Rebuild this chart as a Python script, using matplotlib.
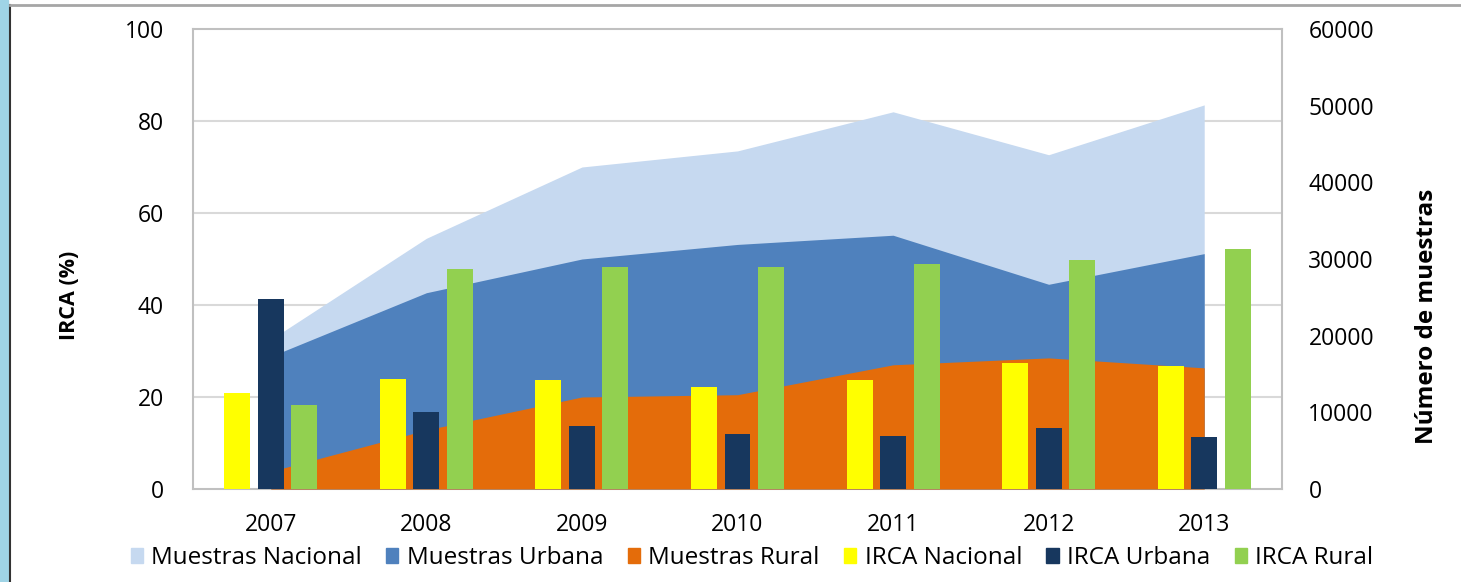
import numpy as np
import matplotlib
matplotlib.use('Agg')
import matplotlib.pyplot as plt
from matplotlib.patches import Patch, Rectangle
from matplotlib.lines import Line2D

plt.rcParams['font.family'] = ['Open Sans', 'DejaVu Sans']

years = ['2007', '2008', '2009', '2010', '2011', '2012', '2013']

# number of samples (right axis, overlapping areas)
muestras_nacional = [19500, 32700, 42000, 44100, 49200, 43600, 50100]
muestras_urbana = [17300, 25600, 30000, 31900, 33100, 26700, 30700]
muestras_rural = [2300, 7700, 12000, 12300, 16200, 17100, 15800]

# IRCA (%) (left axis)
irca_nacional = [20.8, 23.9, 23.7, 22.1, 23.8, 27.5, 26.7]
irca_urbana = [41.3, 16.8, 13.8, 12.0, 11.6, 13.3, 11.2]
irca_rural = [18.2, 47.8, 48.3, 48.2, 48.9, 49.8, 52.1]

c_nac_area = '#c6d9f0'
c_urb_area = '#4f81bd'
c_rur_area = '#e46c0a'
c_nac_bar = '#ffff00'
c_urb_bar = '#17375e'
c_rur_bar = '#92d050'

fig = plt.figure(figsize=(14.61, 5.82), dpi=100)

# frame decorations of the screenshot
fig.add_artist(Rectangle((0, 0), 8 / 1461, 1, transform=fig.transFigure,
                         color='#9fd4e6', zorder=0))
fig.add_artist(Line2D([9.5 / 1461, 9.5 / 1461], [0, 1 - 5 / 582],
                      transform=fig.transFigure, color='#333333', lw=1.5))
fig.add_artist(Line2D([9.5 / 1461, 1], [1 - 5 / 582, 1 - 5 / 582],
                      transform=fig.transFigure, color='#a6a6a6', lw=2))

rect = [193 / 1461, 1 - 489 / 582, (1282 - 193) / 1461, (489 - 29) / 582]
ax2 = fig.add_axes(rect)
ax = fig.add_axes(rect)
ax.set_zorder(ax2.get_zorder() + 1)
ax.patch.set_visible(False)

x = np.arange(len(years))

# areas on the right axis
ax2.fill_between(x, muestras_nacional, color=c_nac_area, lw=0, zorder=2)
ax2.fill_between(x, muestras_urbana, color=c_urb_area, lw=0, zorder=3)
ax2.fill_between(x, muestras_rural, color=c_rur_area, lw=0, zorder=4)
ax2.set_ylim(0, 60000)
ax2.set_xlim(-0.5, len(years) - 0.5)
ax2.yaxis.tick_right()
ax2.set_yticks(np.arange(0, 60001, 10000))
ax2.set_yticks(np.linspace(0, 60000, 6), minor=True)
ax2.grid(True, which='minor', axis='y', color='#d9d9d9', lw=1.5, zorder=0)
ax2.set_axisbelow(True)
ax2.tick_params(axis='y', which='both', length=0, pad=19, labelsize=16.5)
ax2.tick_params(axis='x', bottom=False, labelbottom=False)
for s in ax2.spines.values():
    s.set_color('#c0c0c0')
    s.set_linewidth(1.5)

# bars on the left axis
w = 0.167
off = 0.215
ax.bar(x - off, irca_nacional, w, color=c_nac_bar, zorder=3)
ax.bar(x, irca_urbana, w, color=c_urb_bar, zorder=3)
ax.bar(x + off, irca_rural, w, color=c_rur_bar, zorder=3)
ax.set_ylim(0, 100)
ax.set_xlim(-0.5, len(years) - 0.5)
ax.set_yticks(np.arange(0, 101, 20))
ax.set_xticks(x)
ax.set_xticklabels(years)
ax.tick_params(axis='y', length=0, pad=21, labelsize=16.5)
ax.tick_params(axis='x', length=0, pad=17, labelsize=16.5)
for s in ax.spines.values():
    s.set_visible(False)

ax.text(-0.113, 0.42, 'IRCA (%)', transform=ax.transAxes, rotation=90,
        ha='center', va='center', fontsize=15.5, fontweight='bold')
ax.text(1.133, 0.376, 'Número de muestras', transform=ax.transAxes, rotation=90,
        ha='center', va='center', fontsize=17.5, fontweight='bold')

handles = [Patch(color=c_nac_area), Patch(color=c_urb_area), Patch(color=c_rur_area),
           Patch(color=c_nac_bar), Patch(color=c_urb_bar), Patch(color=c_rur_bar)]
labels = ['Muestras Nacional', 'Muestras Urbana', 'Muestras Rural',
          'IRCA Nacional', 'IRCA Urbana', 'IRCA Rural']
fig.legend(handles, labels, loc='center', bbox_to_anchor=(752 / 1461, 1 - 558 / 582),
           ncol=6, frameon=False, fontsize=17.5, handlelength=0.5, handleheight=0.55,
           handletextpad=0.35, columnspacing=1.0, borderpad=0)

fig.savefig('out.png', dpi=100)
